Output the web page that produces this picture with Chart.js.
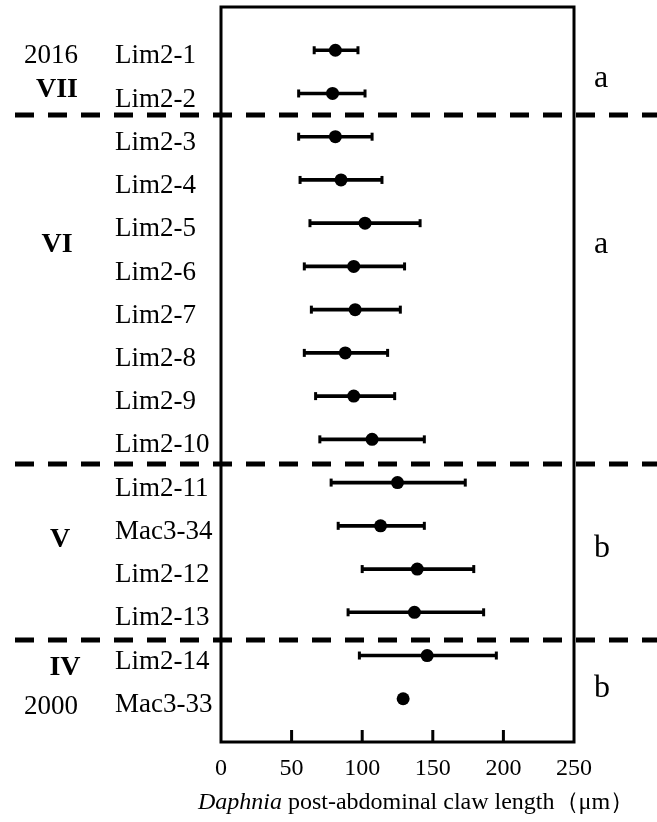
<!DOCTYPE html>
<html>
<head>
<meta charset="utf-8">
<script src="https://cdn.jsdelivr.net/npm/chart.js@4"></script>
<style>
  body { margin: 0; background: #fff; }
  #wrap { width: 657px; height: 822px; position: relative; }
</style>
</head>
<body>
<div id="wrap"><canvas id="clawChart"></canvas></div>
<script>
// data ----------------------------------------------------------------------
const samples = ["Lim2-1", "Lim2-2", "Lim2-3", "Lim2-4", "Lim2-5", "Lim2-6", "Lim2-7", "Lim2-8",
  "Lim2-9", "Lim2-10", "Lim2-11", "Mac3-34", "Lim2-12", "Lim2-13", "Lim2-14", "Mac3-33"];
const means = [81, 79, 81, 85, 102, 94, 95, 88, 94, 107, 125, 113, 139, 137, 146, 129];
const lows  = [66, 55, 55, 56, 63, 59, 64, 59, 67, 70, 78, 83, 100, 90, 98, null];
const highs = [97, 102, 107, 114, 141, 130, 127, 118, 123, 144, 173, 144, 179, 186, 195, null];
const xTicks = [0, 50, 100, 150, 200, 250];

// zone labels (left), significance letters (right), zone dividers -- in row units
const zoneLabels = ["2016", "VII", "VI", "V", "IV", "2000"];
const zoneRows = [1.13, 1.92, 5.5, 12.33, 15.29, 16.19];
const sigLetters = ["a", "a", "b", "b"];
const sigRows = [1.85, 5.69, 12.72, 15.96];
const dividerRows = [2.5, 10.57, 14.64];

const rows = samples.map((s, i) => i + 1);
const SERIF = "'Liberation Serif', 'Times New Roman', serif";

// error bars (floating horizontal bars) and their end caps
const barData = [];
const capData = [];
rows.forEach((r, i) => {
  if (lows[i] == null) return;
  barData.push({ x: [lows[i], highs[i]], y: r });
  capData.push({ x: lows[i], y: r }, { x: highs[i], y: r });
});

// box, dashed dividers and inward ticks
const framePlugin = {
  id: "frame",
  afterDatasetsDraw(chart) {
    const { ctx, chartArea: a, scales } = chart;
    ctx.save();
    ctx.strokeStyle = "#000";
    ctx.lineWidth = 3;
    ctx.strokeRect(a.left, a.top, a.right - a.left, a.bottom - a.top);
    // inward tick marks on the bottom axis
    ctx.beginPath();
    scales.x.ticks.forEach(t => {
      if (t.value <= scales.x.min || t.value >= scales.x.max) return;
      const px = scales.x.getPixelForValue(t.value);
      ctx.moveTo(px, a.bottom);
      ctx.lineTo(px, a.bottom - 12);
    });
    ctx.stroke();
    // dashed dividers
    ctx.lineWidth = 5;
    ctx.setLineDash([19, 14]);
    dividerRows.forEach(r => {
      const py = scales.y.getPixelForValue(r);
      ctx.beginPath();
      ctx.moveTo(15, py);
      ctx.lineTo(chart.width, py);
      ctx.stroke();
    });
    ctx.restore();
  },
  afterDraw(chart) {
    const { ctx, scales } = chart;
    const zoneX = [51, 57, 57, 60, 65, 51];
    ctx.save();
    ctx.fillStyle = "#000";
    ctx.textBaseline = "middle";
    ctx.textAlign = "center";
    zoneLabels.forEach((t, i) => {
      const bold = /^[IVX]+$/.test(t);
      ctx.font = (bold ? "bold 28px " : "27px ") + SERIF;
      ctx.fillText(t, zoneX[i], scales.y.getPixelForValue(zoneRows[i]));
    });
    // significance letters
    ctx.textBaseline = "alphabetic";
    ctx.textAlign = "left";
    ctx.font = "32px " + SERIF;
    sigLetters.forEach((t, i) => {
      ctx.fillText(t, 594, scales.y.getPixelForValue(sigRows[i]));
    });
    // axis title with italic genus name
    const part1 = "Daphnia";
    const part2 = " post-abdominal claw length\uFF08\u03BCm\uFF09";
    ctx.font = "italic 24px " + SERIF;
    const w1 = ctx.measureText(part1).width;
    ctx.font = "24px " + SERIF;
    const w2 = ctx.measureText(part2).width;
    const x0 = 416 - (w1 + w2) / 2;
    ctx.font = "italic 24px " + SERIF;
    ctx.fillText(part1, x0, 809);
    ctx.font = "24px " + SERIF;
    ctx.fillText(part2, x0 + w1, 809);
    ctx.restore();
  }
};

const ctx = document.getElementById("clawChart").getContext("2d");

new Chart(ctx, {
  type: "scatter",
  data: {
    datasets: [
      {
        type: "bar",
        indexAxis: "y",
        data: barData,
        backgroundColor: "#000",
        borderWidth: 0,
        barThickness: 3,
        order: 3
      },
      {
        data: capData,
        pointStyle: "line",
        rotation: 90,
        pointRadius: 4,
        borderColor: "#000",
        borderWidth: 3,
        order: 2
      },
      {
        data: rows.map((r, i) => ({ x: means[i], y: r })),
        pointRadius: 6.5,
        backgroundColor: "#000",
        borderWidth: 0,
        order: 1
      }
    ]
  },
  options: {
    responsive: true,
    maintainAspectRatio: false,
    animation: false,
    events: [],
    layout: { padding: { left: 115, top: 7, right: 83, bottom: 0 } },
    plugins: {
      legend: { display: false },
      tooltip: { enabled: false }
    },
    scales: {
      x: {
        type: "linear",
        min: 0,
        max: 250,
        offset: false,
        afterBuildTicks: s => { s.ticks = xTicks.map(v => ({ value: v })); },
        afterFit: s => { s.height = 80; s.paddingLeft = 0; s.paddingRight = 0; },
        grid: { display: false, drawTicks: false, offset: false },
        border: { display: false },
        ticks: {
          color: "#000",
          padding: 12,
          font: { family: SERIF, size: 24 }
        }
      },
      y: {
        type: "linear",
        min: 0,
        max: 17,
        reverse: true,
        offset: false,
        afterBuildTicks: s => { s.ticks = rows.map(v => ({ value: v })); },
        afterFit: s => { s.width = 106; s.paddingTop = 0; s.paddingBottom = 0; },
        grid: { display: false, drawTicks: false, offset: false },
        border: { display: false },
        ticks: {
          autoSkip: false,
          color: "#000",
          crossAlign: "far",
          labelOffset: 6,
          font: { family: SERIF, size: 27 },
          callback: v => samples[v - 1] || ""
        }
      }
    }
  },
  plugins: [framePlugin]
});
</script>
</body>
</html>
